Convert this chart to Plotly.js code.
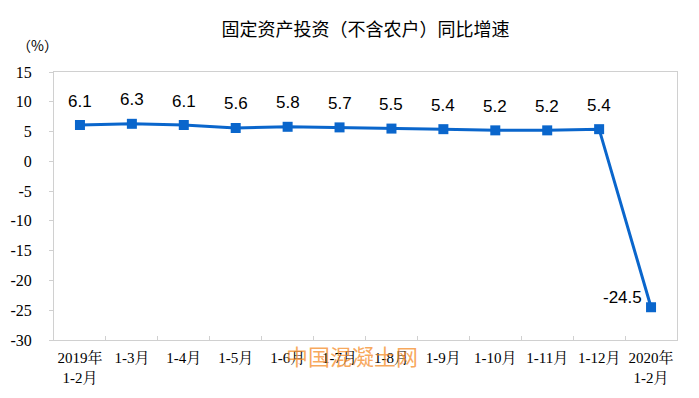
<!DOCTYPE html>
<html>
<head>
<meta charset="utf-8">
<script src="https://cdn.plot.ly/plotly-3.0.1.min.js"></script>
<style>html,body{margin:0;padding:0;background:#fff;}</style>
</head>
<body>
<div id="chart" style="width:699px;height:398px;"></div>
<script>
var categories = ["2019年<br>1-2月", "1-3月", "1-4月", "1-5月", "1-6月", "1-7月", "1-8月", "1-9月", "1-10月", "1-11月", "1-12月", "2020年<br>1-2月"];
var growth = [6.1, 6.3, 6.1, 5.6, 5.8, 5.7, 5.5, 5.4, 5.2, 5.2, 5.4, -24.5];
var labels = ["6.1", "6.3", "6.1", "5.6", "5.8", "5.7", "5.5", "5.4", "5.2", "5.2", "5.4", "-24.5"];
var yTicks = [-30, -25, -20, -15, -10, -5, 0, 5, 10, 15];
var yTickText = ["-30", "-25", "-20", "-15", "-10", "-5", "0", "5", "10", "15"];

var trace = {
  x: categories,
  y: growth,
  type: "scatter",
  mode: "lines+markers",
  line: {color: "#0a66cc", width: 3},
  marker: {symbol: "square", size: 10, color: "#0a66cc"},
  cliponaxis: false,
  hoverinfo: "skip"
};

var annotations = [
  {text: "（%）", xref: "paper", yref: "paper", x: -0.062, y: 1.1, xanchor: "left", yanchor: "middle",
   showarrow: false, font: {family: "Noto Sans CJK SC, sans-serif", size: 14, color: "#000"}},
  {text: "中国混凝土网", xref: "paper", yref: "paper", x: 0.478, y: -0.056, xanchor: "center", yanchor: "middle",
   showarrow: false, font: {family: "Noto Sans CJK SC, sans-serif", size: 22, color: "rgba(245,140,40,0.75)"}}
];
labels.forEach(function(t, i){
  var last = i === labels.length - 1;
  annotations.push({
    text: t, x: i, y: growth[i], xref: "x", yref: "y",
    xanchor: last ? "right" : "center", yanchor: "middle",
    xshift: last ? -7 : 0, yshift: last ? 10 : 24,
    showarrow: false,
    font: {family: "Liberation Sans, Arial, sans-serif", size: 17, color: "#000"}
  });
});

var layout = {
  width: 699, height: 398,
  margin: {l: 54, r: 22, t: 72, b: 58, autoexpand: false},
  paper_bgcolor: "#fff", plot_bgcolor: "#fff",
  showlegend: false,
  title: {text: "固定资产投资（不含农户）同比增速", x: 0.5, xref: "paper", y: 0.925, yanchor: "middle",
          font: {family: "Noto Sans CJK SC, sans-serif", size: 18, color: "#000"}},
  xaxis: {
    type: "category", automargin: false,
    range: [-0.5, categories.length - 0.5],
    showgrid: false, zeroline: false,
    showline: true, linecolor: "#d0d0d0", linewidth: 1, mirror: true,
    ticks: "inside", tickson: "boundaries", ticklen: 4, tickcolor: "#d0d0d0",
    tickfont: {family: "Liberation Serif, Noto Serif CJK SC, Noto Sans CJK SC, serif", size: 15, color: "#000"},
    tickangle: 0,
    ticklabelstandoff: 4
  },
  yaxis: {
    range: [-30, 15], tickvals: yTicks, ticktext: yTickText, automargin: false,
    showgrid: false, zeroline: false,
    showline: true, linecolor: "#d0d0d0", linewidth: 1, mirror: true,
    ticks: "outside", ticklen: 4, tickcolor: "#d0d0d0",
    tickfont: {family: "Liberation Serif, Times New Roman, serif", size: 16, color: "#000"},
    ticklabelstandoff: 14
  },
  annotations: annotations
};

Plotly.newPlot("chart", [trace], layout, {staticPlot: true, displayModeBar: false});
</script>
</body>
</html>
